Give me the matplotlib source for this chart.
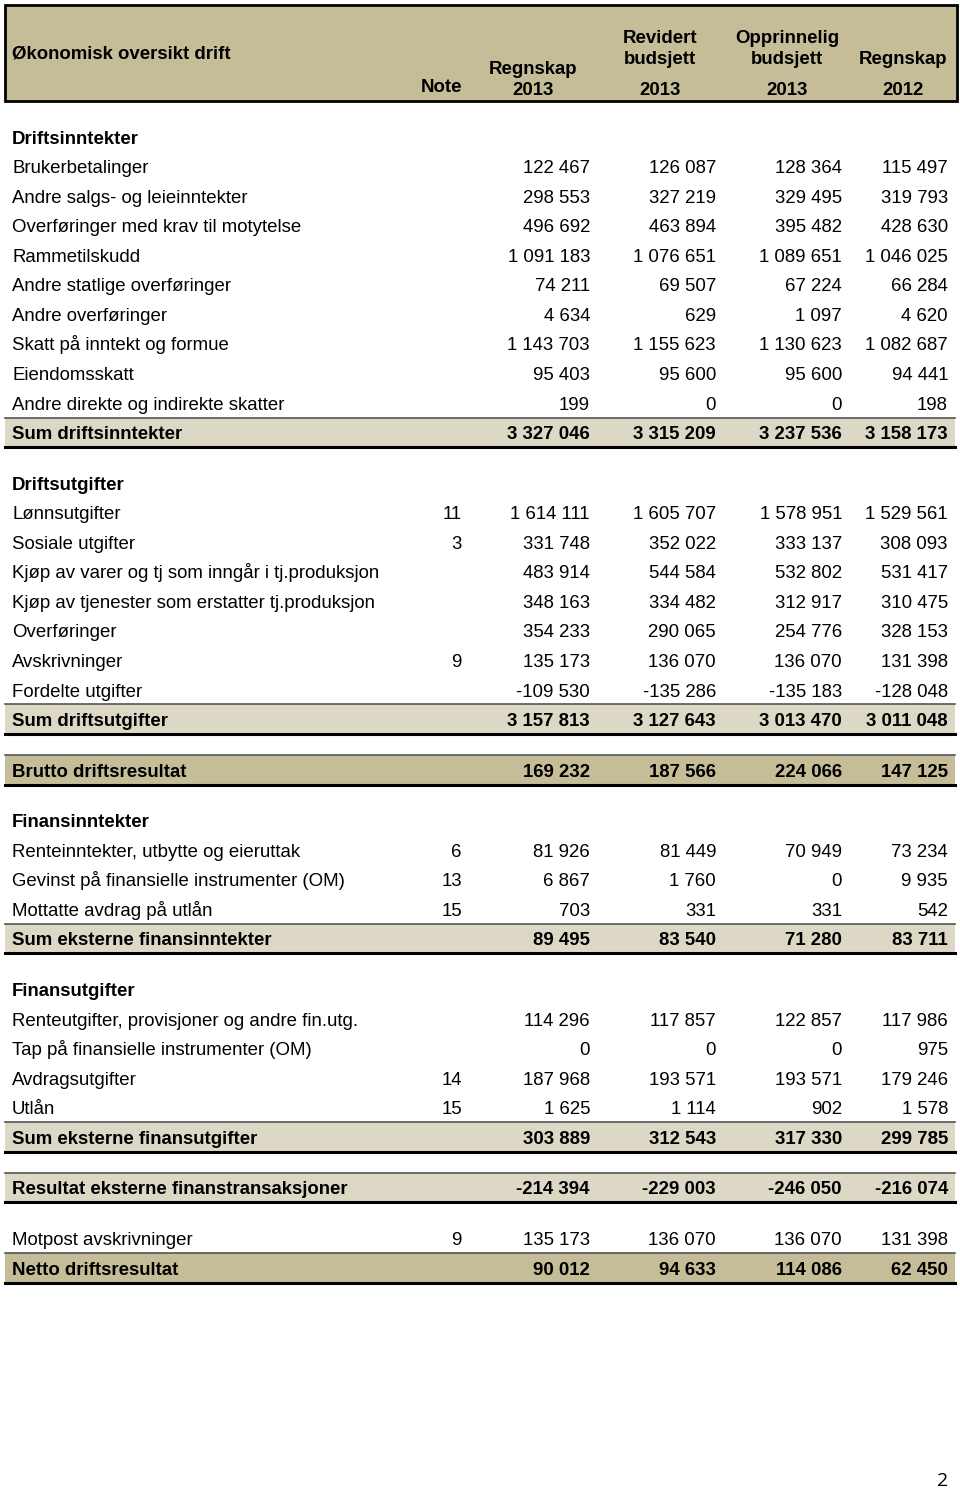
import matplotlib
matplotlib.use('Agg')
import matplotlib.pyplot as plt

# rader: tekst, note, radtype
labels = ["Driftsinntekter", "Brukerbetalinger", "Andre salgs- og leieinntekter",
          "Overføringer med krav til motytelse", "Rammetilskudd", "Andre statlige overføringer",
          "Andre overføringer", "Skatt på inntekt og formue", "Eiendomsskatt",
          "Andre direkte og indirekte skatter", "Sum driftsinntekter", "",
          "Driftsutgifter", "Lønnsutgifter", "Sosiale utgifter",
          "Kjøp av varer og tj som inngår i tj.produksjon", "Kjøp av tjenester som erstatter tj.produksjon",
          "Overføringer", "Avskrivninger", "Fordelte utgifter", "Sum driftsutgifter", "",
          "Brutto driftsresultat", "",
          "Finansinntekter", "Renteinntekter, utbytte og eieruttak", "Gevinst på finansielle instrumenter (OM)",
          "Mottatte avdrag på utlån", "Sum eksterne finansinntekter", "",
          "Finansutgifter", "Renteutgifter, provisjoner og andre fin.utg.", "Tap på finansielle instrumenter (OM)",
          "Avdragsutgifter", "Utlån", "Sum eksterne finansutgifter", "",
          "Resultat eksterne finanstransaksjoner", "",
          "Motpost avskrivninger", "Netto driftsresultat"]

notes = ["", "", "", "", "", "", "", "", "", "", "", "",
         "", "11", "3", "", "", "", "9", "", "", "",
         "", "",
         "", "6", "13", "15", "", "",
         "", "", "", "14", "15", "", "",
         "", "",
         "9", ""]

# s = seksjon, i = post, sum = sumlinje, res = resultatlinje, b = blank
types = ["s", "i", "i", "i", "i", "i", "i", "i", "i", "i", "sum", "b",
         "s", "i", "i", "i", "i", "i", "i", "i", "sum", "b",
         "res", "b",
         "s", "i", "i", "i", "sum", "b",
         "s", "i", "i", "i", "i", "sum", "b",
         "sum", "b",
         "i", "res"]

regnskap_2013 = [None, 122467, 298553, 496692, 1091183, 74211, 4634, 1143703, 95403, 199, 3327046, None,
                 None, 1614111, 331748, 483914, 348163, 354233, 135173, -109530, 3157813, None,
                 169232, None,
                 None, 81926, 6867, 703, 89495, None,
                 None, 114296, 0, 187968, 1625, 303889, None,
                 -214394, None,
                 135173, 90012]

revidert_2013 = [None, 126087, 327219, 463894, 1076651, 69507, 629, 1155623, 95600, 0, 3315209, None,
                 None, 1605707, 352022, 544584, 334482, 290065, 136070, -135286, 3127643, None,
                 187566, None,
                 None, 81449, 1760, 331, 83540, None,
                 None, 117857, 0, 193571, 1114, 312543, None,
                 -229003, None,
                 136070, 94633]

opprinnelig_2013 = [None, 128364, 329495, 395482, 1089651, 67224, 1097, 1130623, 95600, 0, 3237536, None,
                    None, 1578951, 333137, 532802, 312917, 254776, 136070, -135183, 3013470, None,
                    224066, None,
                    None, 70949, 0, 331, 71280, None,
                    None, 122857, 0, 193571, 902, 317330, None,
                    -246050, None,
                    136070, 114086]

regnskap_2012 = [None, 115497, 319793, 428630, 1046025, 66284, 4620, 1082687, 94441, 198, 3158173, None,
                 None, 1529561, 308093, 531417, 310475, 328153, 131398, -128048, 3011048, None,
                 147125, None,
                 None, 73234, 9935, 542, 83711, None,
                 None, 117986, 975, 179246, 1578, 299785, None,
                 -216074, None,
                 131398, 62450]

def fmt(v):
    s = "{:,}".format(abs(v)).replace(",", " ")
    return "-" + s if v < 0 else s

plt.rcParams['font.family'] = ['Liberation Sans', 'DejaVu Sans']
fig = plt.figure(figsize=(9.6, 14.91), dpi=100)
ax = fig.add_axes([0, 0, 1, 1])
ax.set_xlim(0, 960)
ax.set_ylim(1491, 0)
ax.axis('off')

mork = '#c5bd98'
lys = '#ddd8c5'
fs = 13.4
dy = 6.8  # fra midten av raden ned til grunnlinjen

# topptekst
ax.add_patch(plt.Rectangle((5, 5), 952, 96, facecolor=mork, edgecolor='black', lw=2))
ax.text(12, 52 + dy, "Økonomisk oversikt drift", fontsize=fs, fontweight='bold', va='baseline')
ax.text(462, 85 + dy, "Note", fontsize=fs, fontweight='bold', va='baseline', ha='right')
kol_x = [533, 660, 787, 903]
hode = [["", "Regnskap", "2013"], ["Revidert", "budsjett", "2013"],
        ["Opprinnelig", "budsjett", "2013"], ["", "Regnskap", "2012"]]
for k, (x, linjer) in enumerate(zip(kol_x, hode)):
    ys = [36, 57, 88]
    if k == 0:
        ys = [36, 67, 88]
    for y, t in zip(ys, linjer):
        if t:
            ax.text(x, y + dy, t, fontsize=fs, fontweight='bold', va='baseline', ha='center')

h = 29.55
b = 21.05
y = 122.0
hoyre = [590, 716, 842, 948]
serier = [regnskap_2013, revidert_2013, opprinnelig_2013, regnskap_2012]
for i, lab in enumerate(labels):
    t = types[i]
    if t == "b":
        y += b
        continue
    yc = y + h / 2 + dy
    bold = t in ("s", "sum", "res")
    if t in ("sum", "res"):
        ax.add_patch(plt.Rectangle((5, y), 950, h, facecolor=lys if t == "sum" else mork, edgecolor='none'))
        ax.plot([5, 955], [y, y], color='#555555', lw=1.2)
        ax.plot([5, 955], [y + h, y + h], color='black', lw=2.2)
    ax.text(12, yc, lab, fontsize=fs, fontweight='bold' if bold else 'normal', va='baseline')
    if notes[i]:
        ax.text(462, yc, notes[i], fontsize=fs, va='baseline', ha='right')
    for xr, ser in zip(hoyre, serier):
        if ser[i] is not None:
            ax.text(xr, yc, fmt(ser[i]), fontsize=fs, fontweight='bold' if bold else 'normal',
                    va='baseline', ha='right')
    y += h

ax.text(948, 1481, "2", fontsize=14, va='center', ha='right', family=['Open Sans', 'DejaVu Sans'])

plt.savefig("out.png", dpi=100)
